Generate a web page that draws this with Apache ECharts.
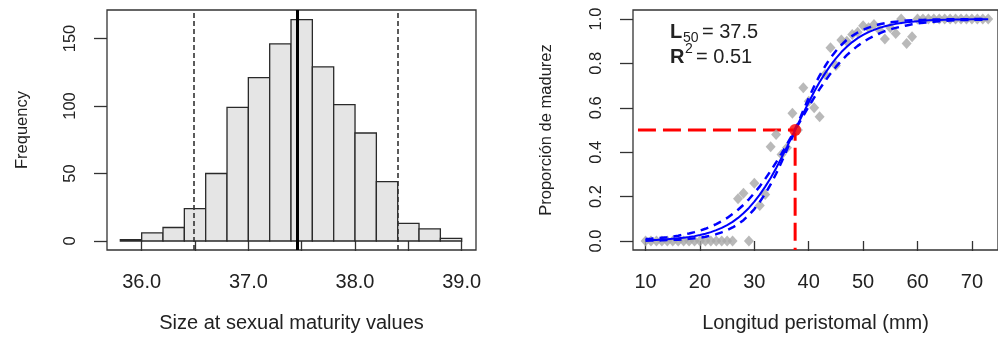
<!DOCTYPE html>
<html>
<head>
<meta charset="utf-8">
<script src="https://cdn.jsdelivr.net/npm/echarts@6/dist/echarts.min.js"></script>
<style>
  html, body { margin: 0; padding: 0; background: #ffffff; }
  #main { width: 998px; height: 338px; }
</style>
</head>
<body>
<div id="main"></div>
<script>
// ---- Bootstrap distribution of L50 (histogram) ----
const binStart = [35.8, 36.0, 36.2, 36.4, 36.6, 36.8, 37.0, 37.2, 37.4, 37.6, 37.8, 38.0, 38.2, 38.4, 38.6, 38.8];
const binEnd   = [36.0, 36.2, 36.4, 36.6, 36.8, 37.0, 37.2, 37.4, 37.6, 37.8, 38.0, 38.2, 38.4, 38.6, 38.8, 39.0];
const binCount = [1, 6, 10, 24, 50, 99, 121, 146, 164, 129, 101, 80, 44, 13, 9, 2];
const l50Median = 37.46;
const l50Interval = [36.49, 38.40];
const histTickValues  = [36.0, 36.5, 37.0, 37.5, 38.0, 38.5, 39.0];
const histLabelValues = [36.0, 37.0, 38.0, 39.0];
const freqTickValues  = [0, 50, 100, 150];

// ---- Maturity ogive ----
const obsLength = [10, 11, 12, 13, 14, 15, 16, 17, 18, 19, 20, 21, 22, 23, 24, 25, 26,
  27, 28, 29, 30, 31, 32, 33, 34, 35, 36, 37, 38, 39, 40, 41, 42, 43, 44, 45, 46, 47, 48, 49,
  50, 51, 52, 53, 54, 55, 56, 57, 58, 59, 60, 61, 62, 63, 64, 65, 66, 67, 68, 69, 70, 71, 72, 73];
const obsProportion = [0, 0, 0, 0, 0, 0, 0, 0, 0, 0, 0, 0, 0, 0, 0, 0, 0,
  0.19, 0.215, 0, 0.26, 0.16, 0.21, 0.425, 0.48, 0.39, 0.42, 0.575, 0.50, 0.69, 0.63, 0.60, 0.56, 0.75, 0.87, 0.79, 0.905, 0.90, 0.93, 0.94,
  0.97, 0.96, 0.975, 0.95, 0.91, 0.96, 0.935, 1.0, 0.89, 0.92, 1.0, 1.0, 1.0, 1.0, 1.0, 1.0, 1.0, 1.0, 1.0, 1.0, 1.0, 1.0, 1.0, 1.0];

const fitLength = [10, 11, 12, 13, 14, 15, 16, 17, 18, 19, 20, 21, 22, 23, 24, 25, 26, 27, 28, 29,
  30, 31, 32, 33, 34, 35, 36, 37, 38, 39, 40, 41, 42, 43, 44, 45, 46, 47, 48, 49,
  50, 51, 52, 53, 54, 55, 56, 57, 58, 59, 60, 61, 62, 63, 64, 65, 66, 67, 68, 69, 70, 71, 72, 73];
const fitted = [0.004, 0.004, 0.005, 0.007, 0.008, 0.010, 0.012, 0.015, 0.018, 0.022,
  0.027, 0.033, 0.040, 0.049, 0.059, 0.072, 0.086, 0.104, 0.125, 0.149,
  0.177, 0.209, 0.245, 0.284, 0.328, 0.375, 0.424, 0.474, 0.526, 0.576,
  0.625, 0.672, 0.716, 0.755, 0.791, 0.823, 0.851, 0.875, 0.896, 0.914,
  0.928, 0.941, 0.951, 0.960, 0.967, 0.973, 0.978, 0.982, 0.985, 0.988,
  0.990, 0.992, 0.994, 0.995, 0.996, 0.997, 0.997, 0.998, 0.998, 0.998,
  0.999, 0.999, 0.999, 0.999];
const fitUpper = [0.009, 0.010, 0.012, 0.015, 0.017, 0.020, 0.024, 0.029, 0.034, 0.040,
  0.047, 0.055, 0.065, 0.076, 0.089, 0.104, 0.122, 0.141, 0.163, 0.188,
  0.216, 0.246, 0.280, 0.316, 0.354, 0.394, 0.436, 0.479, 0.530, 0.588,
  0.645, 0.697, 0.745, 0.787, 0.825, 0.856, 0.883, 0.906, 0.924, 0.939,
  0.951, 0.961, 0.969, 0.976, 0.981, 0.985, 0.988, 0.990, 0.993, 0.994,
  0.995, 0.996, 0.997, 0.998, 0.998, 0.999, 0.999, 0.999, 0.999, 0.999,
  1.000, 1.000, 1.000, 1.000];
const fitLower = [0.001, 0.002, 0.002, 0.003, 0.004, 0.005, 0.006, 0.008, 0.010, 0.012,
  0.015, 0.019, 0.024, 0.031, 0.039, 0.049, 0.061, 0.076, 0.094, 0.117,
  0.144, 0.176, 0.213, 0.255, 0.303, 0.356, 0.412, 0.470, 0.522, 0.564,
  0.606, 0.646, 0.684, 0.720, 0.754, 0.784, 0.812, 0.837, 0.859, 0.879,
  0.896, 0.911, 0.924, 0.935, 0.945, 0.953, 0.960, 0.966, 0.971, 0.976,
  0.980, 0.983, 0.985, 0.988, 0.990, 0.991, 0.993, 0.994, 0.995, 0.996,
  0.996, 0.997, 0.997, 0.998];

const L50 = 37.5;
const R2 = 0.51;
const lengthTickValues = [10, 20, 30, 40, 50, 60, 70];
const propTickValues = [0, 0.2, 0.4, 0.6, 0.8, 1.0];

// ---- Drawing ----
const FONT = 'Liberation Sans, Arial, sans-serif';
const INK = '#222';
const pairs = (xs, ys) => xs.map((x, i) => [x, ys[i]]);

const histX = { min: 35.675, max: 39.134 };
const histY = { min: -6.67, max: 171.1 };
const ogX = { min: 7.69, max: 74.8 };
const ogY = { min: -0.0405, max: 1.0405 };

function xAxisBase(grid, range, ticks, labels, fmt, name) {
  return {
    type: 'value', gridIndex: grid, min: range.min, max: range.max,
    axisLine: { show: false }, splitLine: { show: false },
    axisTick: { show: true, customValues: ticks, length: 10, lineStyle: { color: '#333', width: 1.3 } },
    axisLabel: { customValues: labels, formatter: fmt, fontSize: 20, fontFamily: FONT, color: INK, margin: 22 },
    name: name, nameLocation: 'middle', nameGap: 63,
    nameTextStyle: { fontSize: 20, fontFamily: FONT, color: INK }
  };
}
function yAxisBase(grid, range, ticks, fmt, name, gap) {
  return {
    type: 'value', gridIndex: grid, min: range.min, max: range.max,
    axisLine: { show: false }, splitLine: { show: false },
    axisTick: { show: true, customValues: ticks, length: 13, lineStyle: { color: '#333', width: 1.3 } },
    axisLabel: { customValues: ticks, formatter: fmt, rotate: 90, fontSize: 16.5, fontFamily: FONT, color: INK, margin: 28 },
    name: name, nameLocation: 'middle', nameGap: gap,
    nameTextStyle: { fontSize: 16.5, fontFamily: FONT, color: INK }
  };
}

const chart = echarts.init(document.getElementById('main'), null, { renderer: 'canvas' });

const option = {
  animation: false,
  backgroundColor: '#ffffff',
  grid: [
    { left: 107, top: 10, width: 369, height: 240, show: true, borderColor: '#333', borderWidth: 1.3, backgroundColor: 'transparent' },
    { left: 633, top: 10, width: 366, height: 240, show: true, borderColor: '#333', borderWidth: 1.3, backgroundColor: 'transparent' }
  ],
  xAxis: [
    xAxisBase(0, histX, histTickValues, histLabelValues, v => v.toFixed(1), 'Size at sexual maturity values'),
    xAxisBase(1, ogX, lengthTickValues, lengthTickValues, v => String(v), 'Longitud peristomal (mm)')
  ],
  yAxis: [
    yAxisBase(0, histY, freqTickValues, v => String(v), 'Frequency', 76),
    yAxisBase(1, ogY, propTickValues, v => v.toFixed(1), 'Proporción de madurez', 78)
  ],
  series: [
    {
      type: 'custom', xAxisIndex: 0, yAxisIndex: 0,
      data: binCount.map((c, i) => [binStart[i], binEnd[i], c]),
      encode: { x: [0, 1], y: 2 },
      renderItem: (params, api) => {
        const p0 = api.coord([api.value(0), 0]);
        const p1 = api.coord([api.value(1), api.value(2)]);
        return {
          type: 'rect',
          shape: { x: p0[0], y: p1[1], width: p1[0] - p0[0], height: p0[1] - p1[1] },
          style: { fill: '#e5e5e5', stroke: '#2a2a2a', lineWidth: 1.3 }
        };
      },
      markLine: {
        silent: true, symbol: 'none', label: { show: false },
        data: [
          { xAxis: l50Interval[0], lineStyle: { color: '#333', width: 1.6, type: [5, 3] } },
          { xAxis: l50Interval[1], lineStyle: { color: '#333', width: 1.6, type: [5, 3] } },
          { xAxis: l50Median, lineStyle: { color: '#000', width: 3, type: 'solid' } }
        ]
      }
    },
    {
      type: 'line', xAxisIndex: 1, yAxisIndex: 1, symbol: 'none', silent: true,
      data: [[8.6, 0.5], [L50, 0.5], [L50, ogY.min]],
      lineStyle: { color: '#ff0000', width: 3, type: [18, 7] }, z: 1
    },
    {
      type: 'scatter', xAxisIndex: 1, yAxisIndex: 1, symbol: 'diamond', symbolSize: [10, 11],
      data: pairs(obsLength, obsProportion), itemStyle: { color: '#a8a8a8' }, z: 2
    },
    {
      type: 'line', xAxisIndex: 1, yAxisIndex: 1, symbol: 'none', silent: true,
      data: pairs(fitLength, fitUpper), lineStyle: { color: '#0000ff', width: 2.5, type: [8, 6] }, z: 3
    },
    {
      type: 'line', xAxisIndex: 1, yAxisIndex: 1, symbol: 'none', silent: true,
      data: pairs(fitLength, fitLower), lineStyle: { color: '#0000ff', width: 2.5, type: [8, 6] }, z: 3
    },
    {
      type: 'line', xAxisIndex: 1, yAxisIndex: 1, symbol: 'none', silent: true,
      data: pairs(fitLength, fitted), lineStyle: { color: '#0000ff', width: 2 }, z: 4
    },
    {
      type: 'scatter', xAxisIndex: 1, yAxisIndex: 1, symbol: 'circle', symbolSize: 12,
      data: [[L50, 0.5]], itemStyle: { color: '#ff0000' }, z: 5
    }
  ],
  graphic: [
    { type: 'text', left: 670, top: 22, style: { text: 'L', font: 'bold 20px ' + FONT, fill: INK } },
    { type: 'text', left: 683, top: 31, style: { text: '50', font: '14px ' + FONT, fill: INK } },
    { type: 'text', left: 702, top: 22, style: { text: '= ' + L50.toFixed(1), font: '20px ' + FONT, fill: INK } },
    { type: 'text', left: 670, top: 47, style: { text: 'R', font: 'bold 20px ' + FONT, fill: INK } },
    { type: 'text', left: 685, top: 42, style: { text: '2', font: '14px ' + FONT, fill: INK } },
    { type: 'text', left: 696, top: 47, style: { text: '= ' + R2.toFixed(2), font: '20px ' + FONT, fill: INK } }
  ]
};

chart.setOption(option);
</script>
</body>
</html>
